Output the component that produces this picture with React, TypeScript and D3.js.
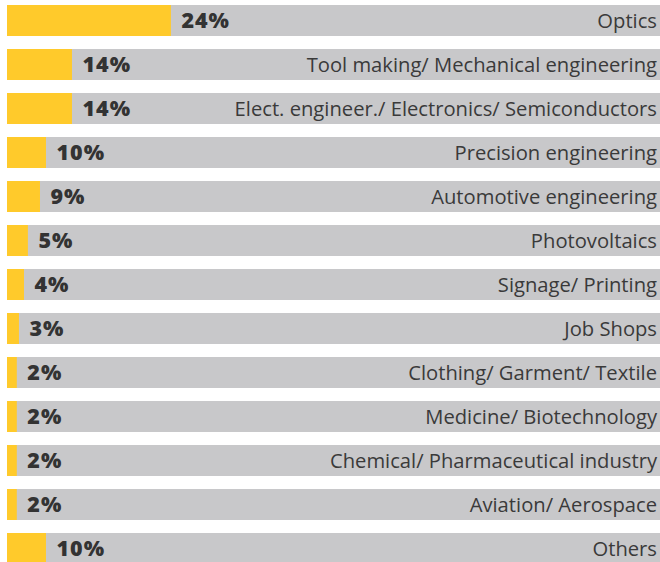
import React from "react";
import * as d3 from "d3";

const categories = [
  "Optics",
  "Tool making/ Mechanical engineering",
  "Elect. engineer./ Electronics/ Semiconductors",
  "Precision engineering",
  "Automotive engineering",
  "Photovoltaics",
  "Signage/ Printing",
  "Job Shops",
  "Clothing/ Garment/ Textile",
  "Medicine/ Biotechnology",
  "Chemical/ Pharmaceutical industry",
  "Aviation/ Aerospace",
  "Others",
];
const shares = [24, 14, 14, 10, 9, 5, 4, 3, 2, 2, 2, 2, 10];

// The reference draws bar length non-proportionally; knots
const lengthKnots = [0, 2, 3, 4, 5, 9, 10, 14, 24];
const lengthShare = [0, 1.5, 1.83, 2.6, 3.2, 5.05, 5.97, 9.95, 25.1]; // % of track width

const W = 660;
const H = 562;
const left = 7;
const right = 660;
const top = 5;
const pitch = 44;
const barH = 31;

export default function App() {
  const n = categories.length;
  const y = d3
    .scaleBand<string>()
    .domain(categories)
    .range([top, top + pitch * (n - 1) + barH])
    .paddingInner((pitch - barH) / pitch)
    .paddingOuter(0)
    .align(0);
  const track = d3.scaleLinear().domain([0, 100]).range([left, right]);
  const len = d3.scaleLinear().domain(lengthKnots).range(lengthShare);
  const bw = y.bandwidth();

  return (
    <svg
      width={W}
      height={H}
      style={{ position: "absolute", left: 0, top: 0, display: "block" }}
    >
      {categories.map((c, i) => {
        const y0 = y(c)!;
        const xe = track(len(shares[i]));
        return (
          <g key={c}>
            <rect x={left} y={y0} width={right - left} height={bw} fill="#c8c8ca" />
            <rect x={left} y={y0} width={xe - left} height={bw} fill="#ffca2b" />
            <text
              x={xe + 10.5}
              y={y0 + bw / 2 + 7.5}
              fontFamily="'Open Sans', 'Noto Sans', sans-serif"
              fontWeight={800}
              fontSize={21.5}
              letterSpacing={1}
              fill="#333333"
            >
              {shares[i]}%
            </text>
            <text
              x={657}
              y={y0 + bw / 2 + 7}
              textAnchor="end"
              fontFamily="'Open Sans', 'Noto Sans', sans-serif"
              fontSize={20.2}
              fill="#3a3a3a"
            >
              {c}
            </text>
          </g>
        );
      })}
    </svg>
  );
}
